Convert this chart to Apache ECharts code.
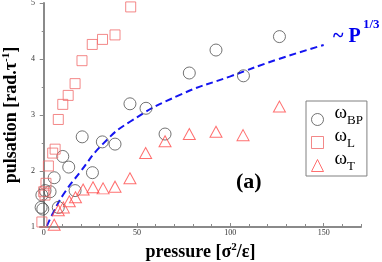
<!DOCTYPE html>
<html><head><meta charset="utf-8">
<script src="https://cdn.jsdelivr.net/npm/echarts@6/dist/echarts.min.js"></script>
<style>html,body{margin:0;padding:0;background:#fff}#c{width:382px;height:262px}</style>
</head><body><div id="c"></div>
<script>
// omega_BP (circles)
const bpP = [126.3, 92.3, 78.0, 107.0, 46.2, 54.8, 65.0, 38.2, 31.4, 20.6, 10.2, 13.4, 26.1, 5.6, 16.8, 0.7, 3.4, -1.0, 7.8, -1.4, -0.5];
const bpW = [4.40, 4.16, 3.75, 3.70, 3.20, 3.12, 2.66, 2.48, 2.52, 2.61, 2.26, 2.07, 1.97, 1.88, 1.65, 1.65, 1.63, 1.57, 1.35, 1.35, 1.32];
// omega_L (squares)
const lP = [46.6, 38.2, 31.5, 26.0, 20.5, 16.8, 13.1, 10.2, 7.8, 6.1, 4.8, 2.5, 1.2, 0.0, 0.7, -1.0];
const lW = [4.93, 4.43, 4.35, 4.26, 3.97, 3.56, 3.35, 3.19, 2.92, 2.39, 2.32, 2.09, 1.78, 1.63, 1.57, 1.09];
// omega_T (triangles)
const tP = [126.3, 106.8, 92.3, 78.0, 65.0, 54.6, 46.2, 38.2, 31.8, 26.4, 21.1, 17.0, 13.7, 10.5, 7.8, 5.6];
const tW = [3.15, 2.64, 2.70, 2.66, 2.53, 2.32, 1.87, 1.72, 1.69, 1.71, 1.67, 1.53, 1.46, 1.35, 1.30, 1.04];
// dashed ~P^(1/3) guide
const fitP = [1.7, 5.0, 10.5, 19.5, 31.6, 46.2, 73.0, 100.0, 125.0, 150.0];
const fitW = [1.02, 1.25, 1.58, 1.98, 2.48, 2.88, 3.36, 3.69, 3.99, 4.25];
// ticks
const xMajor = [0, 50, 100, 150];
const xMinor = [10, 20, 30, 40, 60, 70, 80, 90, 110, 120, 130, 140, 160, 170];
const seriesNames = ['BP', 'L', 'T'];

const zip = (a, b) => a.map((v, i) => [v, b[i]]);
const serif = 'Liberation Serif';
const axisGray = '#8a8a8a';
const chart = echarts.init(document.getElementById('c'));
chart.setOption({
  animation: false,
  grid: {left: 40, right: 21, top: 3, bottom: 35, containLabel: false, outerBoundsMode: 'none'},
  xAxis: [{
    type: 'value', min: -2, max: 170,
    axisLine: {onZero: false, lineStyle: {color: axisGray, width: 2}},
    axisTick: {inside: true, length: 4, customValues: xMajor, lineStyle: {color: axisGray}},
    axisLabel: {customValues: xMajor, fontFamily: serif, fontSize: 8, color: '#333', margin: 2},
    splitLine: {show: false},
    name: '{b|pressure [σ}{sup|2}{b|/ε]}',
    nameLocation: 'middle', nameGap: 15,
    nameTextStyle: {rich: {
      b: {fontFamily: serif, fontWeight: 'bold', fontSize: 18, lineHeight: 20, color: '#000'},
      sup: {fontFamily: serif, fontWeight: 'bold', fontSize: 11, lineHeight: 11, verticalAlign: 'top', color: '#000'}
    }}
  }, {
    type: 'value', min: -2, max: 170, position: 'bottom',
    axisLine: {show: false, onZero: false},
    axisTick: {inside: true, length: 3, customValues: xMinor, lineStyle: {color: axisGray}},
    axisLabel: {show: false}, splitLine: {show: false}
  }],
  yAxis: {
    type: 'value', min: 1, max: 5, interval: 1,
    axisLine: {show: true, lineStyle: {color: axisGray, width: 2}},
    axisTick: {show: true, length: 4, lineStyle: {color: axisGray}},
    minorTick: {show: true, splitNumber: 2, length: 2, lineStyle: {color: axisGray}},
    axisLabel: {fontFamily: serif, fontSize: 8, color: '#333', margin: 5},
    splitLine: {show: false},
    name: '{b|pulsation [rad.τ}{sup|-1}{b|]}',
    nameLocation: 'middle', nameGap: 15, nameRotate: 90,
    nameTextStyle: {rich: {
      b: {fontFamily: serif, fontWeight: 'bold', fontSize: 18, lineHeight: 20, color: '#000'},
      sup: {fontFamily: serif, fontWeight: 'bold', fontSize: 11, lineHeight: 11, verticalAlign: 'top', color: '#000'}
    }}
  },
  legend: {
    orient: 'vertical', left: 306, top: 101, padding: [3, 4, 3, 5], itemGap: 0,
    itemWidth: 12, itemHeight: 12,
    borderColor: '#808080', borderWidth: 1,
    data: seriesNames,
    itemStyle: {borderWidth: 1},
    formatter: n => '{w|ω}{s|' + n + '}',
    textStyle: {rich: {
      w: {fontFamily: serif, fontSize: 19, lineHeight: 15, padding: [0, 0, 4, 6], verticalAlign: 'bottom', color: '#000'},
      s: {fontFamily: serif, fontSize: 13, lineHeight: 12, verticalAlign: 'bottom', color: '#000'}
    }}
  },
  graphic: [
    {type: 'text', left: 333, top: 27, style: {text: '~ P', font: 'bold 20px "Liberation Serif"', fill: '#0000ee'}},
    {type: 'text', left: 363, top: 18, style: {text: '1/3', font: 'bold 13px "Liberation Serif"', fill: '#0000ee'}},
    {type: 'text', left: 236, top: 171, style: {text: '(a)', font: 'bold 22px "Liberation Serif"', fill: '#000'}}
  ],
  series: [
    {name: 'BP', type: 'scatter', symbol: 'circle', symbolSize: 12, data: zip(bpP, bpW),
     itemStyle: {color: 'rgba(0,0,0,0)', borderColor: '#505050', borderWidth: 1}},
    {name: 'L', type: 'scatter', symbol: 'rect', symbolSize: 10, data: zip(lP, lW),
     itemStyle: {color: 'rgba(0,0,0,0)', borderColor: '#f06a6a', borderWidth: 1}},
    {name: 'T', type: 'scatter', symbol: 'triangle', symbolSize: [12, 11], data: zip(tP, tW),
     itemStyle: {color: 'rgba(0,0,0,0)', borderColor: '#ff4b4b', borderWidth: 1}},
    {name: 'fit', type: 'line', smooth: true, showSymbol: false, symbol: 'none', data: zip(fitP, fitW),
     lineStyle: {color: '#1515f0', width: 2, type: [7, 4]}, z: 1}
  ]
});
</script></body></html>
